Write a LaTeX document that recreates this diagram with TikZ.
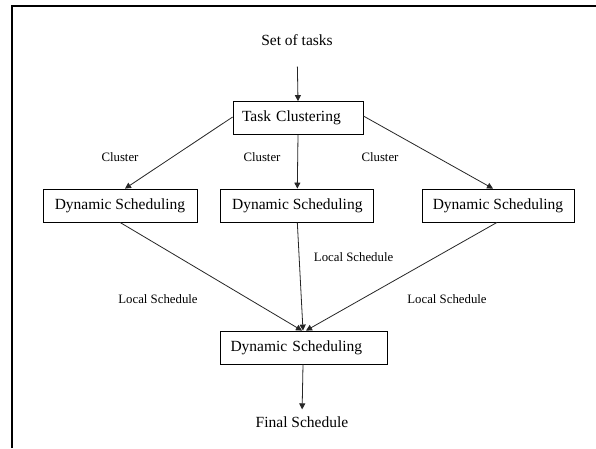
\documentclass[tikz,border=0pt]{standalone}
\usepackage{fontspec}
\setmainfont{Liberation Serif}
\usetikzlibrary{arrows.meta}
\tikzset{
  big/.style={font=\fontsize{15.5}{17}\selectfont},
  small/.style={font=\fontsize{12.8}{14}\selectfont},
  box/.style={draw=black, line width=0.8pt, big, inner sep=0pt, minimum height=33pt, align=center},
  leftbox/.style={box, align=left, text width=#1},
  arr/.style={draw=black!85, line width=0.8pt, -{Triangle[length=6pt,width=6pt]}},
  lbl/.style={small, inner sep=0pt}
}
\begin{document}
\begin{tikzpicture}[x=1pt, y=-1pt]
\useasboundingbox (0,0) rectangle (596,448);
\fill[white] (0,0) rectangle (596,448);
% frame
\draw[line width=2pt] (12,448) -- (12,5.8) -- (596,5.8);
% nodes
\node[big, inner sep=0pt] (set) at (297,40) {Set of tasks};
\node[box, minimum width=130pt, text width=112pt, align=left] (tc) at (298,118) {Task Clustering};
\node[box, minimum width=154pt] (l1) at (120,205.5) {Dynamic Scheduling};
\node[box, minimum width=153pt] (m1) at (297.3,205.5) {Dynamic Scheduling};
\node[box, minimum width=152pt] (r1) at (498,205.5) {Dynamic Scheduling};
\node[box, minimum width=167pt, text width=147pt, align=left] (b) at (304,347.5) {Dynamic Scheduling};
\node[big, inner sep=0pt] (fs) at (302,422) {Final Schedule};
% labels
\node[lbl] (c1) at (120,157) {Cluster};
\node[lbl] (c2) at (262,157) {Cluster};
\node[lbl] (c3) at (380,157) {Cluster};
\node[lbl] (ls2) at (353.6,256.7) {Local Schedule};
\node[lbl] (ls1) at (158,299) {Local Schedule};
\node[lbl] (ls3) at (447,299) {Local Schedule};
% connectors
\draw[arr, shorten <=21pt] (set.south) -- (tc.north);
\draw[arr] ([yshift=1pt]tc.west) -- ([xshift=5pt]l1.north);
\draw[arr] (tc.south) -- (m1.north);
\draw[arr] ([yshift=2pt]tc.east) -- ([xshift=-5pt]r1.north);
\draw[arr] (l1.south) -- ([xshift=-2pt]b.north);
\draw[arr] (m1.south) -- ([xshift=-1pt]b.north);
\draw[arr] ([xshift=-1pt]r1.south) -- ([xshift=2pt]b.north);
\draw[arr, shorten >=7pt] ([xshift=-1pt]b.south) -- (fs.north);
\end{tikzpicture}
\end{document}
